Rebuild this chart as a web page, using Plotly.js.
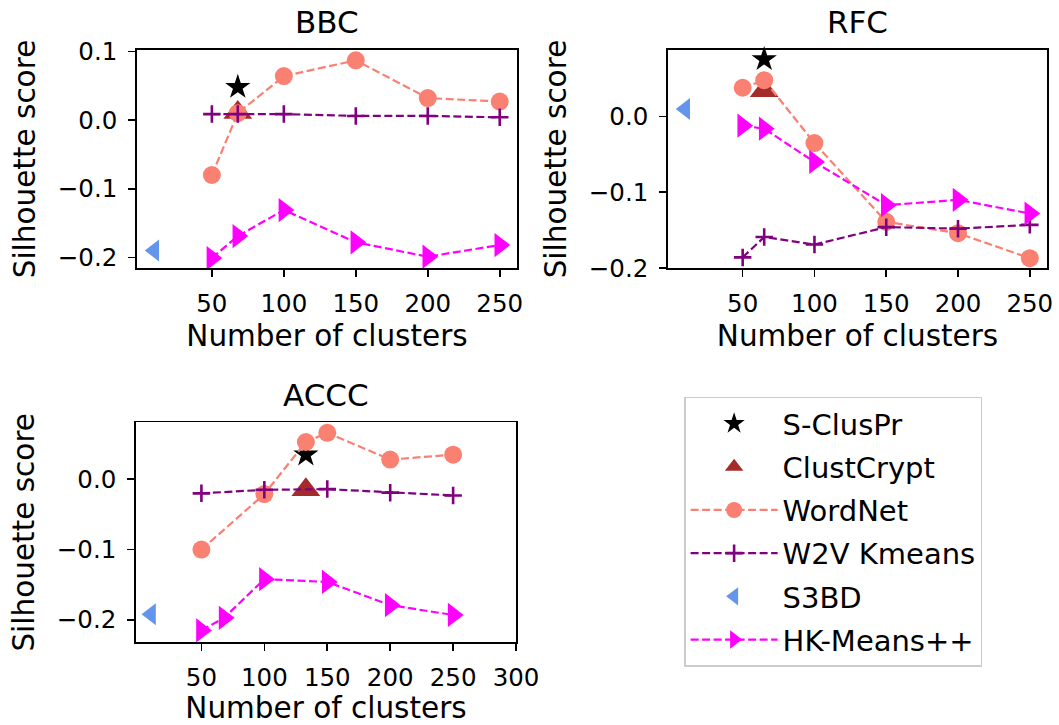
<!DOCTYPE html>
<html>
<head>
<meta charset="utf-8">
<script src="https://cdn.plot.ly/plotly-3.0.1.min.js"></script>
<style>html,body{margin:0;padding:0;background:#fff;}#chart{width:1059px;height:725px;}</style>
</head>
<body>
<div id="chart"></div>
<script>
// ---- BBC ----
const bbcStarX = [68];   const bbcStarY = [0.048];
const bbcCCX = [68];     const bbcCCY = [0.011];
const bbcWNX = [50, 68, 100, 150, 200, 250];
const bbcWNY = [-0.080, 0.010, 0.064, 0.087, 0.032, 0.027];
const bbcW2VX = [50, 68, 100, 150, 200, 250];
const bbcW2VY = [0.0087, 0.0087, 0.0087, 0.006, 0.006, 0.004];
const bbcS3X = [10];     const bbcS3Y = [-0.190];
const bbcHKX = [50, 68, 100, 150, 200, 250];
const bbcHKY = [-0.201, -0.169, -0.131, -0.178, -0.199, -0.182];

// ---- RFC ----
const rfcStarX = [65];   const rfcStarY = [0.0755];
const rfcCCX = [65];     const rfcCCY = [0.034];
const rfcWNX = [50, 65, 100, 150, 200, 250];
const rfcWNY = [0.038, 0.048, -0.035, -0.139, -0.154, -0.187];
const rfcW2VX = [50, 65, 100, 150, 200, 250];
const rfcW2VY = [-0.186, -0.159, -0.169, -0.146, -0.148, -0.143];
const rfcS3X = [10];     const rfcS3Y = [0.010];
const rfcHKX = [50, 65, 100, 150, 200, 250];
const rfcHKY = [-0.012, -0.016, -0.060, -0.117, -0.110, -0.128];

// ---- ACCC ----
const acStarX = [133];   const acStarY = [0.035];
const acCCX = [133];     const acCCY = [-0.015];
const acWNX = [50, 100, 133, 150, 200, 250];
const acWNY = [-0.100, -0.021, 0.053, 0.066, 0.028, 0.035];
const acW2VX = [50, 100, 150, 200, 250];
const acW2VY = [-0.020, -0.015, -0.014, -0.019, -0.023];
const acS3X = [10];      const acS3Y = [-0.192];
const acHKX = [50, 68, 100, 150, 200, 250];
const acHKY = [-0.215, -0.197, -0.142, -0.146, -0.179, -0.193];

const seriesNames = ['S-ClusPr', 'ClustCrypt', 'WordNet', 'W2V Kmeans', 'S3BD', 'HK-Means++'];
const panelTitles = ['BBC', 'RFC', 'ACCC'];
const xTickVals = [50, 100, 150, 200, 250];
const xTickValsACCC = [50, 100, 150, 200, 250, 300];
const xLabel = 'Number of clusters';
const yLabel = 'Silhouette score';

const FONT = 'DejaVu Sans, Liberation Sans, sans-serif';
const DASH = '8px,3.5px';
const styles = [
  {mode: 'markers', marker: {symbol: 'star', size: 19, color: '#000000'}},
  {mode: 'markers', marker: {symbol: 'triangle-up', size: 25, color: '#a52a2a'}},
  {mode: 'lines+markers', marker: {symbol: 'circle', size: 18, color: '#fa8072'}, line: {color: '#fa8072', width: 2.2, dash: DASH}},
  {mode: 'lines+markers', marker: {symbol: 'cross-thin-open', size: 12.5, color: '#800080', line: {width: 2.6, color: '#800080'}}, line: {color: '#800080', width: 2.2, dash: DASH}},
  {mode: 'markers', marker: {symbol: 'triangle-left', size: 19, color: '#6495ed'}},
  {mode: 'lines+markers', marker: {symbol: 'triangle-right', size: 21, color: '#ff00ff'}, line: {color: '#ff00ff', width: 2.2, dash: DASH}}
];

const panels = [
  {xa: 'x', ya: 'y', data: [[bbcStarX, bbcStarY], [bbcCCX, bbcCCY], [bbcWNX, bbcWNY], [bbcW2VX, bbcW2VY], [bbcS3X, bbcS3Y], [bbcHKX, bbcHKY]]},
  {xa: 'x2', ya: 'y2', data: [[rfcStarX, rfcStarY], [rfcCCX, rfcCCY], [rfcWNX, rfcWNY], [rfcW2VX, rfcW2VY], [rfcS3X, rfcS3Y], [rfcHKX, rfcHKY]]},
  {xa: 'x3', ya: 'y3', data: [[acStarX, acStarY], [acCCX, acCCY], [acWNX, acWNY], [acW2VX, acW2VY], [acS3X, acS3Y], [acHKX, acHKY]]}
];

const traces = [];
panels.forEach((p, pi) => {
  p.data.forEach((d, si) => {
    const st = styles[si];
    const t = {
      type: 'scatter', x: d[0], y: d[1], xaxis: p.xa, yaxis: p.ya,
      name: seriesNames[si], legendgroup: seriesNames[si], showlegend: pi === 0,
      mode: st.mode, marker: JSON.parse(JSON.stringify(st.marker)), cliponaxis: false
    };
    if (st.line) t.line = st.line;
    traces.push(t);
  });
});

function xax(domain, range, tickvals, anchor) {
  return {
    domain: domain, range: range, tickvals: tickvals, anchor: anchor,
    showline: true, mirror: true, linecolor: '#000', linewidth: 1.8,
    ticks: 'outside', ticklen: 7, tickwidth: 1.6, tickcolor: '#000',
    showgrid: false, zeroline: false, ticklabelstandoff: 6,
    tickfont: {family: FONT, size: 24.5, color: '#000'},
    title: {text: xLabel, font: {family: FONT, size: 29.5, color: '#000'}, standoff: 8}
  };
}
function yax(domain, range, tickvals, anchor) {
  return {
    domain: domain, range: range, tickvals: tickvals, anchor: anchor,
    tickformat: '.1f',
    showline: true, mirror: true, linecolor: '#000', linewidth: 1.8,
    ticks: 'outside', ticklen: 7, tickwidth: 1.6, tickcolor: '#000',
    showgrid: false, zeroline: false, ticklabelstandoff: 6,
    tickfont: {family: FONT, size: 24.5, color: '#000'},
    title: {text: yLabel, font: {family: FONT, size: 29.5, color: '#000'}, standoff: 13}
  };
}

const layout = {
  width: 1059, height: 725,
  margin: {l: 0, r: 0, t: 0, b: 0},
  paper_bgcolor: '#fff', plot_bgcolor: '#fff',
  font: {family: FONT, color: '#000'},
  showlegend: true,
  legend: {
    x: 0.646, y: 0.4528, xanchor: 'left', yanchor: 'top',
    bordercolor: '#cccccc', borderwidth: 1.5, bgcolor: '#fff',
    font: {family: FONT, size: 29, color: '#000'},
    tracegroupgap: 2.5, itemwidth: 87
  },
  xaxis: xax([0.1294, 0.4882], [-2, 262], xTickVals, 'y'),
  yaxis: yax([0.6303, 0.931], [-0.2155, 0.102], [-0.2, -0.1, 0.0, 0.1], 'x'),
  xaxis2: xax([0.6308, 0.9887], [-2, 262], xTickVals, 'y2'),
  yaxis2: yax([0.6303, 0.931], [-0.2, 0.0878], [-0.2, -0.1, 0.0], 'x2'),
  xaxis3: xax([0.1284, 0.4873], [-2, 300], xTickValsACCC, 'y3'),
  yaxis3: yax([0.1141, 0.4175], [-0.2318, 0.081], [-0.2, -0.1, 0.0], 'x3'),
  annotations: [
    {text: panelTitles[0], xref: 'paper', yref: 'paper', x: (0.1294 + 0.4882) / 2, y: 0.9703, xanchor: 'center', yanchor: 'middle', showarrow: false, font: {family: FONT, size: 31, color: '#000'}},
    {text: panelTitles[1], xref: 'paper', yref: 'paper', x: (0.6308 + 0.9887) / 2, y: 0.9703, xanchor: 'center', yanchor: 'middle', showarrow: false, font: {family: FONT, size: 31, color: '#000'}},
    {text: panelTitles[2], xref: 'paper', yref: 'paper', x: (0.1284 + 0.4873) / 2, y: 0.4546, xanchor: 'center', yanchor: 'middle', showarrow: false, font: {family: FONT, size: 31, color: '#000'}}
  ]
};

Plotly.newPlot('chart', traces, layout, {displayModeBar: false, staticPlot: true});
</script>
</body>
</html>
